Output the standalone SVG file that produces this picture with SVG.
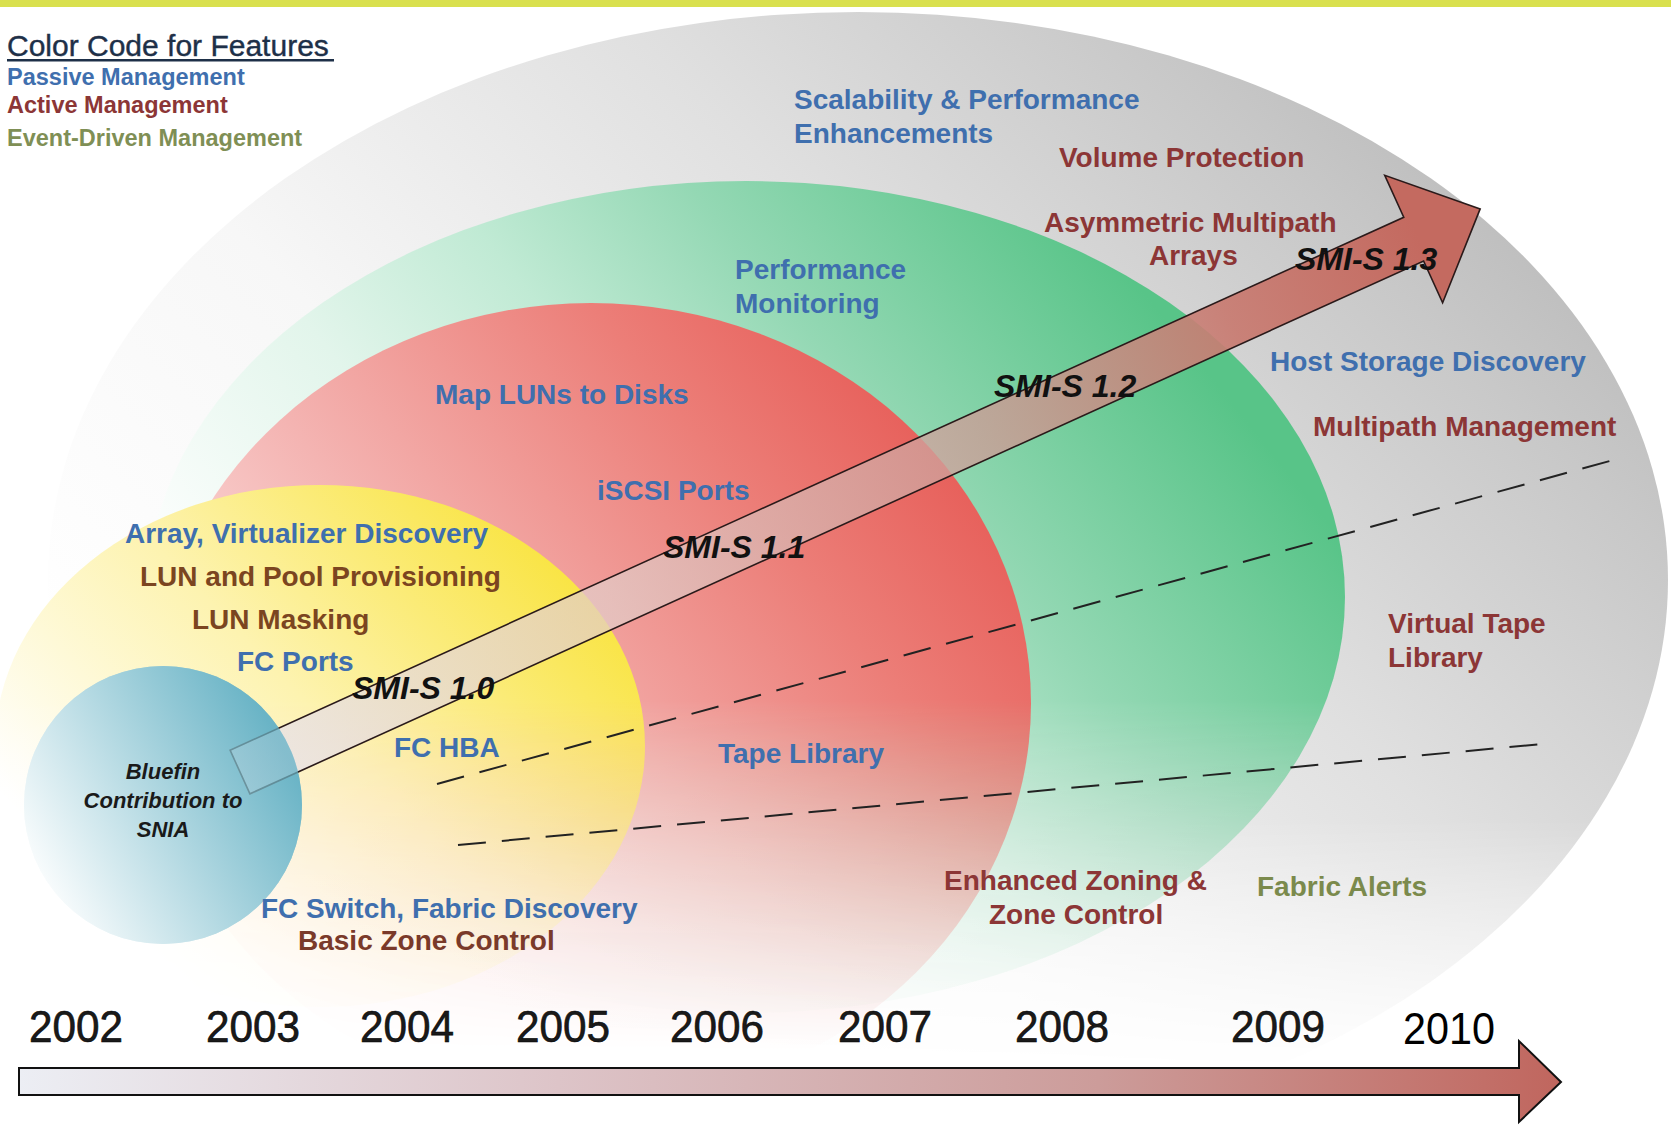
<svg xmlns="http://www.w3.org/2000/svg" width="1671" height="1131" viewBox="0 0 1671 1131">
<defs>
<linearGradient id="gGrey" gradientUnits="userSpaceOnUse" x1="420" y1="1000" x2="1400" y2="0">
<stop offset="0" stop-color="#ffffff"/>
<stop offset="0.3" stop-color="#f7f7f7"/>
<stop offset="0.6" stop-color="#e0e0e0"/>
<stop offset="0.85" stop-color="#c8c8c8"/>
<stop offset="1" stop-color="#b8b8b8"/>
</linearGradient>
<linearGradient id="gGreen" gradientUnits="userSpaceOnUse" x1="400" y1="900" x2="1150" y2="300">
<stop offset="0" stop-color="#ffffff"/>
<stop offset="0.3" stop-color="#e2f5eb"/>
<stop offset="0.5" stop-color="#c0ead4"/>
<stop offset="0.7" stop-color="#94d8b4"/>
<stop offset="1" stop-color="#58c488"/>
</linearGradient>
<linearGradient id="gRed" gradientUnits="userSpaceOnUse" x1="250" y1="950" x2="950" y2="400">
<stop offset="0" stop-color="#fff2f2"/>
<stop offset="0.4" stop-color="#f4b4b2"/>
<stop offset="0.75" stop-color="#ec7e78"/>
<stop offset="1" stop-color="#e65a55"/>
</linearGradient>
<linearGradient id="gYellow" gradientUnits="userSpaceOnUse" x1="150" y1="950" x2="560" y2="560">
<stop offset="0" stop-color="#ffffff"/>
<stop offset="0.5" stop-color="#fdf3b0"/>
<stop offset="1" stop-color="#f9e443"/>
</linearGradient>
<linearGradient id="gBlue" gradientUnits="userSpaceOnUse" x1="40" y1="900" x2="290" y2="760">
<stop offset="0" stop-color="#ffffff"/>
<stop offset="1" stop-color="#6ab4c6"/>
</linearGradient>
<linearGradient id="gFade" gradientUnits="userSpaceOnUse" x1="0" y1="700" x2="0" y2="1050">
<stop offset="0" stop-color="#fff"/>
<stop offset="1" stop-color="#000"/>
</linearGradient>
<linearGradient id="gFadeGrey" gradientUnits="userSpaceOnUse" x1="0" y1="820" x2="0" y2="1070">
<stop offset="0" stop-color="#fff"/>
<stop offset="1" stop-color="#000"/>
</linearGradient>
<mask id="mFade" maskUnits="userSpaceOnUse" x="0" y="0" width="1671" height="1131">
<rect x="0" y="0" width="1671" height="1131" fill="url(#gFade)"/>
</mask>
<mask id="mFadeGrey" maskUnits="userSpaceOnUse" x="0" y="0" width="1671" height="1131">
<rect x="0" y="0" width="1671" height="1131" fill="url(#gFadeGrey)"/>
</mask>
<linearGradient id="gShaft" gradientUnits="userSpaceOnUse" x1="0" y1="0" x2="1362" y2="0">
<stop offset="0" stop-color="#e8e4ec" stop-opacity="0.75"/>
<stop offset="0.3" stop-color="#e2ccc8" stop-opacity="0.72"/>
<stop offset="0.6" stop-color="#cc9c96" stop-opacity="0.78"/>
<stop offset="0.8" stop-color="#c87a70" stop-opacity="0.92"/>
<stop offset="0.95" stop-color="#c46a60" stop-opacity="1"/>
</linearGradient>
<linearGradient id="gTime" x1="0" y1="0" x2="1" y2="0">
<stop offset="0" stop-color="#eceef4"/>
<stop offset="0.35" stop-color="#ddc4c8"/>
<stop offset="0.7" stop-color="#cc9c9a"/>
<stop offset="1" stop-color="#c0665e"/>
</linearGradient>
<style>
text{font-family:"Liberation Sans",Arial,sans-serif;}
.lbl{font-size:28px;font-weight:bold;}
.blue{fill:#3f6fae;}
.red{fill:#8c3636;}
.brown{fill:#7b4520;}
.olive{fill:#7b8a4c;}
.smi{font-size:32px;font-weight:bold;font-style:italic;fill:#111;}
.blf{font-size:22px;font-weight:bold;font-style:italic;fill:#1a1a1a;text-anchor:middle;}
.yr{font-size:44px;fill:#1a1a1a;stroke:#000;stroke-width:0.6;}
.dash{fill:none;stroke:#222;stroke-width:2;stroke-dasharray:28 16;}
</style>
</defs>
<rect x="0" y="0" width="1671" height="1131" fill="#ffffff"/>
<rect x="0" y="0" width="1671" height="7" fill="#d9e04e"/>

<g id="ring-smis13" mask="url(#mFadeGrey)"><ellipse cx="858" cy="580" rx="810" ry="568" fill="url(#gGrey)"/></g>
<g id="ring-smis12" mask="url(#mFade)"><ellipse cx="746" cy="597" rx="599" ry="416" fill="url(#gGreen)"/></g>
<g id="ring-smis11" mask="url(#mFade)"><ellipse cx="591" cy="703" rx="440" ry="400" fill="url(#gRed)"/></g>
<g id="ring-smis10" mask="url(#mFade)"><ellipse cx="320" cy="746" rx="325" ry="261" fill="url(#gYellow)"/></g>
<g id="bluefin-base"><circle cx="163" cy="805" r="139" fill="url(#gBlue)"/></g>

<g id="connectors">
<line class="dash" x1="437" y1="784" x2="1617" y2="459"/>
<line class="dash" x1="458" y1="845" x2="1553" y2="743"/>
<g id="smis-arrow" transform="translate(240,772) rotate(-24.42)">
<path d="M0,-24 L1289,-24 L1289,-70 L1362,0 L1289,70 L1289,24 L0,24 Z" fill="url(#gShaft)" stroke="#2a1a1a" stroke-width="1.6" stroke-linejoin="miter"/>
</g>
<path id="timeline" d="M19,1068 L1519,1068 L1519,1041 L1561,1082 L1519,1122 L1519,1095 L19,1095 Z" fill="url(#gTime)" stroke="#111" stroke-width="2"/>
</g>

<g id="bluefin"><circle cx="163" cy="805" r="139" fill="url(#gBlue)" opacity="0.72"/>
<text class="blf" x="163" y="779">Bluefin</text>
<text class="blf" x="163" y="808">Contribution to</text>
<text class="blf" x="163" y="837">SNIA</text>
</g>

<g id="legend">
<text x="7" y="56" font-size="30" fill="#1e3048" stroke="#1e3048" stroke-width="0.4">Color Code for Features</text>
<rect x="7" y="59" width="327" height="2.5" fill="#1e3048"/>
<text x="7" y="85" font-size="23.5" font-weight="bold" class="blue">Passive Management</text>
<text x="7" y="113" font-size="23.5" font-weight="bold" class="red">Active Management</text>
<text x="7" y="146" font-size="23.5" font-weight="bold" fill="#7f8f55">Event-Driven Management</text>
</g>

<g id="labels">
<text class="lbl blue" x="794" y="109">Scalability &amp; Performance</text>
<text class="lbl blue" x="794" y="143">Enhancements</text>
<text class="lbl red" x="1059" y="167">Volume Protection</text>
<text class="lbl red" x="1044" y="232">Asymmetric Multipath</text>
<text class="lbl red" x="1149" y="265">Arrays</text>
<text class="lbl blue" x="735" y="279">Performance</text>
<text class="lbl blue" x="735" y="313">Monitoring</text>
<text class="lbl blue" x="1270" y="371">Host Storage Discovery</text>
<text class="lbl red" x="1313" y="436">Multipath Management</text>
<text class="lbl blue" x="435" y="404">Map LUNs to Disks</text>
<text class="lbl blue" x="597" y="500">iSCSI Ports</text>
<text class="lbl blue" x="125" y="543">Array, Virtualizer Discovery</text>
<text class="lbl brown" x="140" y="586">LUN and Pool Provisioning</text>
<text class="lbl brown" x="192" y="629">LUN Masking</text>
<text class="lbl blue" x="237" y="671">FC Ports</text>
<text class="lbl blue" x="394" y="757">FC HBA</text>
<text class="lbl blue" x="718" y="763">Tape Library</text>
<text class="lbl red" x="1388" y="633">Virtual Tape</text>
<text class="lbl red" x="1388" y="667">Library</text>
<text class="lbl blue" x="261" y="918">FC Switch, Fabric Discovery</text>
<text class="lbl" x="298" y="950" fill="#7a3a2a">Basic Zone Control</text>
<text class="lbl red" x="944" y="890">Enhanced Zoning &amp;</text>
<text class="lbl red" x="989" y="924">Zone Control</text>
<text class="lbl olive" x="1257" y="896">Fabric Alerts</text>
</g>

<g id="versions">
<text class="smi" x="352" y="699">SMI-S 1.0</text>
<text class="smi" x="663" y="558">SMI-S 1.1</text>
<text class="smi" x="994" y="397">SMI-S 1.2</text>
<text class="smi" x="1295" y="270">SMI-S 1.3</text>
</g>

<g id="years">
<text class="yr" x="29" y="1042" textLength="94" lengthAdjust="spacingAndGlyphs">2002</text>
<text class="yr" x="206" y="1042" textLength="94" lengthAdjust="spacingAndGlyphs">2003</text>
<text class="yr" x="360" y="1042" textLength="94" lengthAdjust="spacingAndGlyphs">2004</text>
<text class="yr" x="516" y="1042" textLength="94" lengthAdjust="spacingAndGlyphs">2005</text>
<text class="yr" x="670" y="1042" textLength="94" lengthAdjust="spacingAndGlyphs">2006</text>
<text class="yr" x="838" y="1042" textLength="94" lengthAdjust="spacingAndGlyphs">2007</text>
<text class="yr" x="1015" y="1042" textLength="94" lengthAdjust="spacingAndGlyphs">2008</text>
<text class="yr" x="1231" y="1042" textLength="94" lengthAdjust="spacingAndGlyphs">2009</text>
<text x="1403" y="1044" font-size="44" textLength="92" lengthAdjust="spacingAndGlyphs" fill="#000">2010</text>
</g>
</svg>
